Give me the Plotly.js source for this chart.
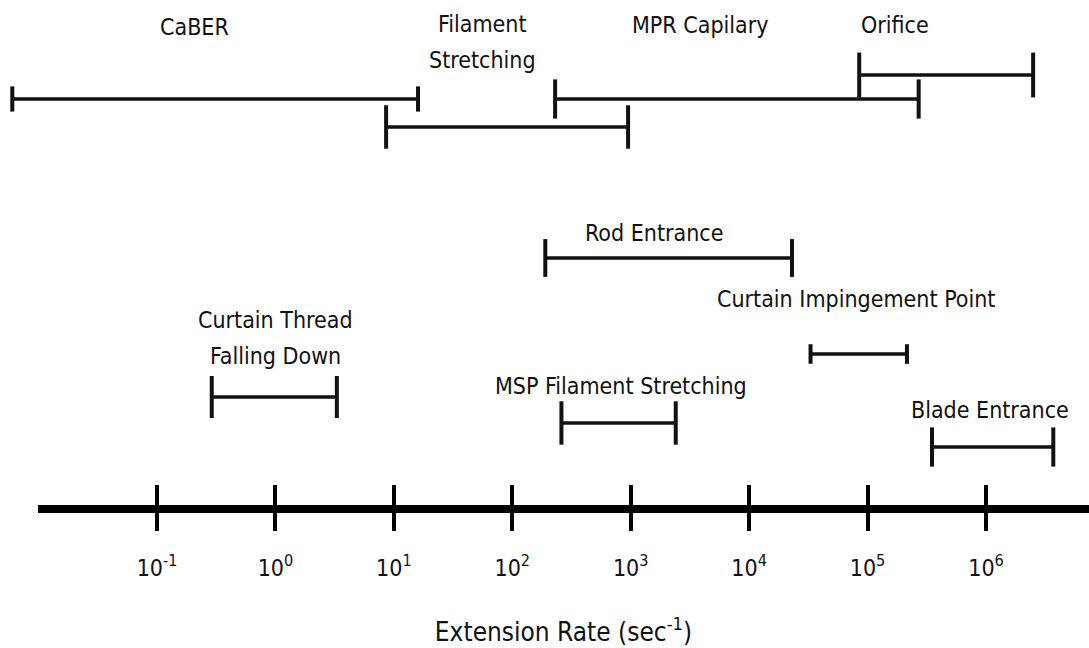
<!DOCTYPE html>
<html>
<head>
<meta charset="utf-8">
<script src="https://cdn.plot.ly/plotly-3.0.1.min.js"></script>
<style>html,body{margin:0;padding:0;background:#fff;}#chart{width:1089px;height:648px;}</style>
</head>
<body>
<div id="chart"></div>
<script>
// ---- data (extension rate ranges, sec^-1) ----
const methods = ["CaBER", "Filament<br>Stretching", "MPR Capilary", "Orifice", "Rod Entrance",
  "Curtain Impingement Point", "Curtain Thread<br>Falling Down", "MSP Filament Stretching", "Blade Entrance"];
const rateLow  = [0.006, 8.6, 230, 85000, 190, 33000, 0.29, 260, 350000];
const rateHigh = [16, 950, 270000, 2500000, 23000, 215000, 3.3, 2400, 3700000];
const tickValues = [0.1, 1, 10, 100, 1000, 10000, 100000, 1000000];
const tickLabels = ["10<sup>-1</sup>", "10<sup>0</sup>", "10<sup>1</sup>", "10<sup>2</sup>",
  "10<sup>3</sup>", "10<sup>4</sup>", "10<sup>5</sup>", "10<sup>6</sup>"];
const axisTitle = "Extension Rate (sec<sup>-1</sup>)";

// ---- layout helpers (positions/styles, not data) ----
const lanes    = [409, 381, 409, 433, 250, 154, 111, 85, 61];      // vertical lane of each bar
const capSize  = [18, 31, 28, 32, 27, 14, 30, 31, 28];
const labelX   = [-0.68, 1.75, 3.585, 5.232, 3.197, 4.902, 0.0, 2.918, 6.034]; // log10 units
const labelY   = [481, 484, 483, 483, 275, 209, 188, 122, 98];     // first line
const lineGap = 36;

const W = 1089, PLOT_BOTTOM = 508;
const px0 = 157, px6 = 986;               // pixel of 10^-1 and 10^6
const dec = (px6 - px0) / 7;
const L = -1 - px0 / dec, R = 6 + (W - px6) / dec;
const axisStart = 38;

const FONT = "Liberation Sans Narrow, DejaVu Sans Condensed, sans-serif";

const traces = methods.map((m, i) => ({
  type: "scatter", mode: "lines+markers",
  x: [rateLow[i], rateHigh[i]], y: [lanes[i], lanes[i]],
  xaxis: "x", yaxis: "y",
  line: {color: "#111", width: 3.5},
  marker: {symbol: "line-ns", size: capSize[i], color: "#111", line: {color: "#111", width: 4}},
  hoverinfo: "skip", showlegend: false, cliponaxis: false
}));
traces.push({type: "scatter", x: [null], y: [null], xaxis: "x2", yaxis: "y", showlegend: false, hoverinfo: "skip"});
traces.push({type: "scatter", x: [null], y: [null], xaxis: "x3", yaxis: "y", showlegend: false, hoverinfo: "skip"});

const annotations = [];
methods.forEach((m, i) => {
  m.split("<br>").forEach((t, k) => {
    annotations.push({text: t, xref: "x", yref: "y", x: labelX[i], y: labelY[i],
      yshift: -k * lineGap, showarrow: false, xanchor: "center", yanchor: "middle",
      font: {family: FONT, size: 23, color: "#111"}});
  });
});

const layout = {
  width: W, height: 648,
  font: {family: FONT, size: 23, color: "#111"},
  margin: {l: 0, r: 0, t: 0, b: 648 - PLOT_BOTTOM + 3, pad: 0},
  paper_bgcolor: "#fff", plot_bgcolor: "rgba(0,0,0,0)",
  showlegend: false,
  xaxis: {type: "log", range: [L, R], domain: [0, 1], anchor: "y",
    showline: false, showgrid: false, zeroline: false, ticks: "", showticklabels: false, fixedrange: true},
  xaxis2: {type: "log", range: [L + axisStart / dec, R], domain: [axisStart / W, 1], anchor: "y",
    showline: true, linecolor: "#000", linewidth: 8, showgrid: false, zeroline: false,
    ticks: "outside", ticklen: 18, tickwidth: 4, tickcolor: "#000",
    tickmode: "array", tickvals: tickValues, ticktext: tickLabels,
    ticklabelstandoff: 17,
    tickfont: {family: FONT, size: 23, color: "#111"},
    title: {text: axisTitle, font: {family: FONT, size: 26, color: "#111"}, standoff: 46},
    automargin: false, fixedrange: true},
  xaxis3: {type: "log", range: [L + axisStart / dec, R], overlaying: "x2", anchor: "y",
    showline: false, showgrid: false, zeroline: false,
    ticks: "inside", ticklen: 20, tickwidth: 4, tickcolor: "#000",
    tickmode: "array", tickvals: tickValues, showticklabels: false, fixedrange: true},
  yaxis: {range: [3, 508], domain: [0, 1], visible: false, showgrid: false, zeroline: false, fixedrange: true},
  annotations: annotations
};

Plotly.newPlot("chart", traces, layout, {displayModeBar: false});
</script>
</body>
</html>
